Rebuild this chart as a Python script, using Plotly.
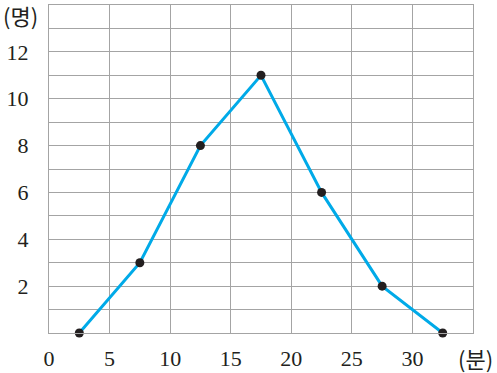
import plotly.graph_objects as go

minutes = [2.5, 7.5, 12.5, 17.5, 22.5, 27.5, 32.5]
people = [0, 3, 8, 11, 6, 2, 0]

x_tickvals = [0, 5, 10, 15, 20, 25, 30, 35]
x_ticktext = ["0", "5", "10", "15", "20", "25", "30", ""]
y_tickvals = list(range(0, 15))
y_ticktext = ["", "", "2", "", "4", "", "6", "", "8", "", "10", "", "12", "", ""]

serif = "Liberation Serif, DejaVu Serif, serif"
grid_color = "#a4a4a4"

fig = go.Figure()
fig.add_trace(go.Scatter(
    x=minutes, y=people, mode="lines+markers",
    line=dict(color="#00aae8", width=3),
    marker=dict(color="#231f20", size=9),
    cliponaxis=False, showlegend=False, hoverinfo="skip",
))

fig.update_layout(
    width=497, height=373,
    margin=dict(l=49, r=24, t=5, b=40),
    paper_bgcolor="white", plot_bgcolor="white",
    font=dict(family=serif, size=22, color="#231f20"),
    xaxis=dict(range=[0, 35], tickvals=x_tickvals, ticktext=x_ticktext,
               showgrid=True, gridcolor=grid_color, gridwidth=1,
               zeroline=False, showline=True, linecolor=grid_color, mirror=True,
               ticks="", ticklabelstandoff=6, automargin=False, fixedrange=True,
               tickfont=dict(family=serif, size=22)),
    yaxis=dict(range=[0, 14], tickvals=y_tickvals, ticktext=y_ticktext,
               showgrid=True, gridcolor=grid_color, gridwidth=1,
               zeroline=False, showline=True, linecolor=grid_color, mirror=True,
               ticks="", ticklabelstandoff=15, automargin=False, fixedrange=True,
               tickfont=dict(family=serif, size=22)),
    annotations=[
        dict(text="(명)", xref="paper", yref="paper", x=-48/424, y=1-10/328,
             xanchor="left", yanchor="middle", showarrow=False,
             font=dict(family="Noto Sans CJK KR", size=22, color="#231f20")),
        dict(text="(분)", xref="paper", yref="paper", x=1+22/424, y=-25/328,
             xanchor="right", yanchor="middle", showarrow=False,
             font=dict(family="Noto Sans CJK KR", size=22, color="#231f20")),
    ],
)

fig.write_html("out.html", config={"displayModeBar": False},
               post_script="document.body.style.margin='0';")
